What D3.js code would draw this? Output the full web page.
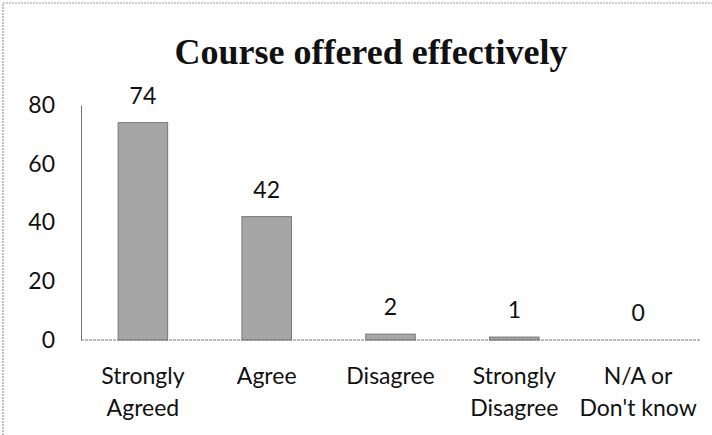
<!DOCTYPE html>
<html>
<head>
<meta charset="utf-8">
<script src="https://cdn.jsdelivr.net/npm/d3@7"></script>
<style>
  body { margin: 0; background: #fff; }
  text { font-family: Lato, "Open Sans", sans-serif; fill: #111; }
</style>
</head>
<body>
<div id="chart"></div>
<script>
// chart values
var categories = [["Strongly", "Agreed"], ["Agree"], ["Disagree"], ["Strongly", "Disagree"], ["N/A or", "Don't know"]];
var counts = [74, 42, 2, 1, 0];
var yTicks = [0, 20, 40, 60, 80];

var W = 712, H = 435;
var margin = {top: 105, left: 81, right: 12, bottom: 95};
var width = W - margin.left - margin.right;
var height = H - margin.top - margin.bottom;

var svg = d3.select('#chart')
    .append('svg')
    .attr('width', W)
    .attr('height', H);

// faint outer frame (scanned look)
svg.append('path')
    .attr('d', 'M3,' + H + 'V3H' + W)
    .attr('fill', 'none')
    .attr('stroke', '#999')
    .attr('stroke-width', 1.2)
    .attr('stroke-dasharray', '2,1');

var g = svg.append('g')
    .attr('transform', 'translate(' + margin.left + ',' + margin.top + ')');

var x = d3.scaleBand()
    .domain(d3.range(categories.length))
    .range([0, width])
    .paddingInner(0.6)
    .paddingOuter(0.3);

var y = d3.scaleLinear()
    .domain([0, 80])
    .range([height, 0]);

// bars
g.selectAll('.bar')
    .data(counts).enter()
    .append('rect')
    .attr('class', 'bar')
    .attr('x', (d, i) => x(i))
    .attr('width', x.bandwidth())
    .attr('y', d => y(d))
    .attr('height', d => height - y(d))
    .attr('fill', '#a6a6a6')
    .attr('stroke', '#777')
    .attr('stroke-width', 1);

// value labels
g.selectAll('.val')
    .data(counts).enter()
    .append('text')
    .attr('class', 'val')
    .attr('x', (d, i) => x(i) + x.bandwidth() / 2)
    .attr('y', d => y(d) - 19)
    .attr('text-anchor', 'middle')
    .attr('font-size', 23)
    .text(d => d);

// axes
var yAxis = d3.axisLeft(y).tickValues(yTicks).tickSize(0).tickPadding(26);
var ya = g.append('g').call(yAxis);
ya.select('.domain').attr('stroke', '#777');
ya.selectAll('text').attr('font-size', 23).style('font-family', 'Lato, sans-serif').attr('fill', '#111');

g.append('line')
    .attr('x1', 0).attr('x2', width)
    .attr('y1', height).attr('y2', height)
    .attr('stroke', '#777')
    .attr('stroke-dasharray', '3,1');

// category labels
var cat = g.selectAll('.cat')
    .data(categories).enter()
    .append('text')
    .attr('class', 'cat')
    .attr('text-anchor', 'middle')
    .attr('font-size', 23)
    .attr('transform', (d, i) => 'translate(' + (x(i) + x.bandwidth() / 2) + ',' + (height + 44) + ')');
cat.selectAll('tspan')
    .data(d => d).enter()
    .append('tspan')
    .attr('x', 0)
    .attr('dy', (d, i) => i ? 32 : 0)
    .text(d => d);

// title
svg.append('text')
    .attr('x', 371)
    .attr('y', 64)
    .attr('text-anchor', 'middle')
    .style('font-family', '"Liberation Serif", "Times New Roman", serif')
    .attr('font-weight', 'bold')
    .attr('font-size', 36)
    .text('Course offered effectively');
</script>
</body>
</html>
